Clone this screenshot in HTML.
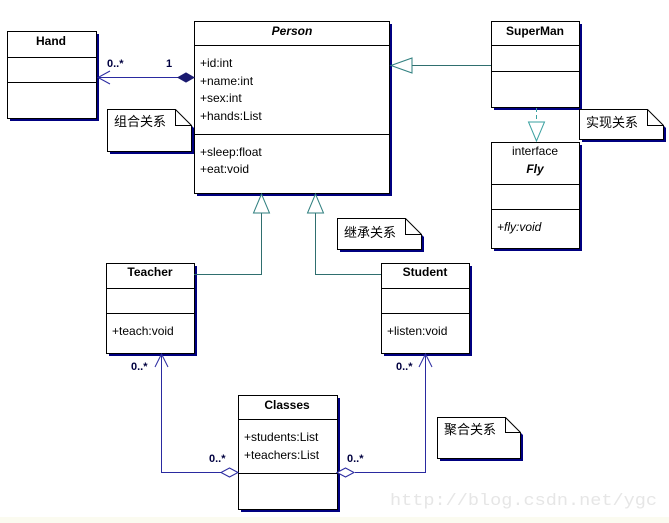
<!DOCTYPE html>
<html><head><meta charset="utf-8"><style>
html,body{margin:0;padding:0;background:#fff;}
svg{display:block;}
text{font-family:"Liberation Sans","Noto Sans CJK SC",sans-serif;font-size:12px;fill:#000;}
.b{font-weight:bold;}
.c{font-size:11px;font-weight:bold;fill:#000040;}
.n{font-size:13px;}
</style></head><body>
<svg width="669" height="523" viewBox="0 0 669 523" xmlns="http://www.w3.org/2000/svg">
<rect x="0" y="517" width="669" height="6" fill="#fbfbf0"/>
<g fill="#000080">
<rect x="10" y="34" width="89" height="87"/>
<rect x="197" y="24" width="195" height="172"/>
<rect x="494" y="24" width="88" height="86"/>
<rect x="494" y="145" width="88" height="106"/>
<rect x="109" y="266" width="88" height="90"/>
<rect x="384" y="266" width="88" height="90"/>
<rect x="241" y="398" width="99" height="114"/>
<path d="M110 112H178L194 128V154H110Z"/>
<path d="M582 112H650L666 128V142H582Z"/>
<path d="M340 221H408L424 237V252H340Z"/>
<path d="M440 420H508L523 435V461H440Z"/>
</g>
<g fill="#fff" stroke="#000" stroke-width="1">
<rect x="7.5" y="31.5" width="89" height="87"/>
<line x1="7" y1="57.5" x2="96" y2="57.5"/><line x1="7" y1="82.5" x2="96" y2="82.5"/>
<rect x="194.5" y="21.5" width="195" height="172"/>
<line x1="194" y1="45.5" x2="389" y2="45.5"/><line x1="194" y1="134.5" x2="389" y2="134.5"/>
<rect x="491.5" y="21.5" width="88" height="86"/>
<line x1="491" y1="45.5" x2="579" y2="45.5"/><line x1="491" y1="71.5" x2="579" y2="71.5"/>
<rect x="491.5" y="142.5" width="88" height="106"/>
<line x1="491" y1="184.5" x2="579" y2="184.5"/><line x1="491" y1="209.5" x2="579" y2="209.5"/>
<rect x="106.5" y="263.5" width="88" height="90"/>
<line x1="106" y1="288.5" x2="194" y2="288.5"/><line x1="106" y1="313.5" x2="194" y2="313.5"/>
<rect x="381.5" y="263.5" width="88" height="90"/>
<line x1="381" y1="288.5" x2="469" y2="288.5"/><line x1="381" y1="313.5" x2="469" y2="313.5"/>
<rect x="238.5" y="395.5" width="99" height="114"/>
<line x1="238" y1="419.5" x2="337" y2="419.5"/><line x1="238" y1="473.5" x2="337" y2="473.5"/>
<path d="M107.5 109.5H175.5L191.5 125.5V151.5H107.5Z"/><path d="M175.5 109.5V125.5H191.5" fill="none"/>
<path d="M579.5 109.5H647.5L663.5 125.5V139.5H579.5Z"/><path d="M647.5 109.5V125.5H663.5" fill="none"/>
<path d="M337.5 218.5H405.5L421.5 234.5V249.5H337.5Z"/><path d="M405.5 218.5V234.5H421.5" fill="none"/>
<path d="M437.5 417.5H505.5L520.5 432.5V458.5H437.5Z"/><path d="M505.5 417.5V432.5H520.5" fill="none"/>
</g>
<g stroke="#2f6f6f" stroke-width="1" fill="none">
<polyline points="194,274.5 261.5,274.5 261.5,213"/>
<polyline points="381,274.5 315.5,274.5 315.5,213"/>
<line x1="491" y1="65.5" x2="412" y2="65.5"/>
<line x1="536.5" y1="108" x2="536.5" y2="122" stroke-dasharray="4,3" stroke="#3aa0a0"/>
</g>
<g stroke="#2f7f7f" stroke-width="1" fill="#fff">
<polygon points="261.5,194 253.5,213 269.5,213"/>
<polygon points="315.5,194 307.5,213 323.5,213"/>
<polygon points="391,65.5 412,58 412,73"/>
<polygon points="536.5,141 528.5,122 544.5,122" stroke="#3aa0a0"/>
</g>
<g stroke="#2a2aa0" stroke-width="1" fill="none">
<line x1="98" y1="77.5" x2="178" y2="77.5"/>
<polyline points="110,71 98,77.5 110,84"/>
<polyline points="161.5,354 161.5,472.5 221,472.5"/>
<polyline points="155,367 161.5,354 168,367"/>
<polyline points="425.5,354 425.5,472.5 355,472.5"/>
<polyline points="419,367 425.5,354 432,367"/>
</g>
<polygon points="194,77.5 186,73 178,77.5 186,82" fill="#1a1a70" stroke="#1a1a70"/>
<polygon points="238,472.5 229.5,468 221,472.5 229.5,477" fill="#fff" stroke="#2a2aa0"/>
<polygon points="337,472.5 345.5,468 354,472.5 345.5,477" fill="#fff" stroke="#2a2aa0"/>
<text class="c" x="107" y="67">0..*</text>
<text class="c" x="166" y="67">1</text>
<text class="c" x="131" y="370">0..*</text>
<text class="c" x="396" y="370">0..*</text>
<text class="c" x="209" y="462">0..*</text>
<text class="c" x="347" y="462">0..*</text>
<text class="b" x="51" y="45" text-anchor="middle">Hand</text>
<text class="b" x="292" y="35" text-anchor="middle" font-style="italic">Person</text>
<text x="200" y="67">+id:int</text>
<text x="200" y="85">+name:int</text>
<text x="200" y="102">+sex:int</text>
<text x="200" y="120">+hands:List</text>
<text x="200" y="156">+sleep:float</text>
<text x="200" y="173">+eat:void</text>
<text class="b" x="535" y="35" text-anchor="middle">SuperMan</text>
<text x="535" y="155" text-anchor="middle">interface</text>
<text class="b" x="535" y="173" text-anchor="middle" font-style="italic">Fly</text>
<text x="497" y="231" font-style="italic">+fly:void</text>
<text class="b" x="150" y="276" text-anchor="middle">Teacher</text>
<text x="112" y="335">+teach:void</text>
<text class="b" x="425" y="276" text-anchor="middle">Student</text>
<text x="387" y="335">+listen:void</text>
<text class="b" x="287" y="409" text-anchor="middle">Classes</text>
<text x="244" y="441">+students:List</text>
<text x="244" y="459">+teachers:List</text>
<text class="n" x="114" y="126">组合关系</text>
<text class="n" x="586" y="127">实现关系</text>
<text class="n" x="344" y="237">继承关系</text>
<text class="n" x="444" y="434">聚合关系</text>
<text x="390" y="505" textLength="267" lengthAdjust="spacingAndGlyphs" style="font-family:'Liberation Mono',monospace;font-size:17px;fill:#e6e6e6;">http://blog.csdn.net/ygc</text>
</svg>
</body></html>
